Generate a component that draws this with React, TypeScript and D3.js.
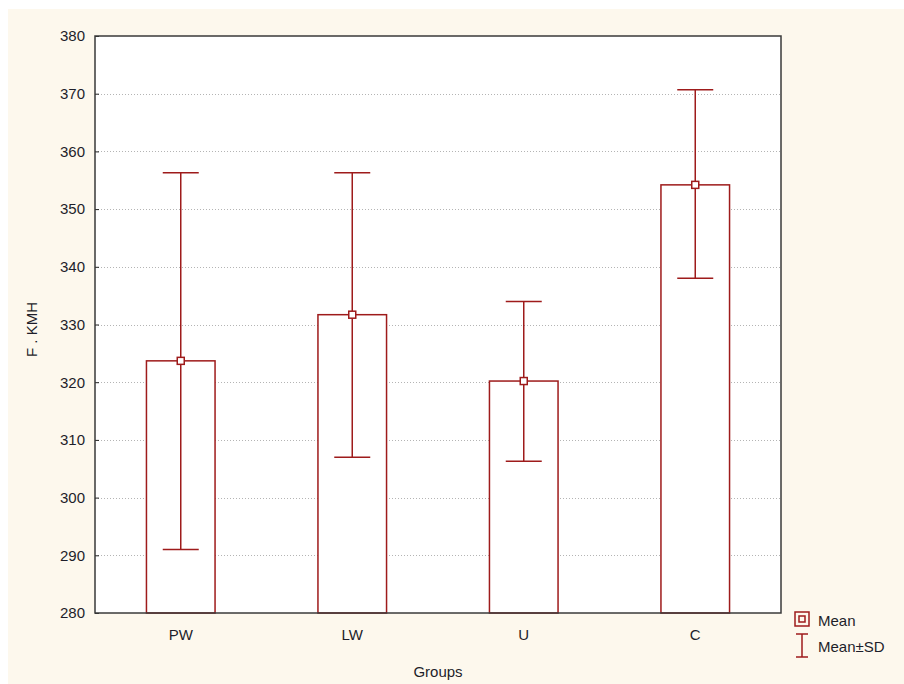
import React, { useEffect, useRef } from "react";
import * as d3 from "d3";

const groups = ["PW", "LW", "U", "C"];
const means = [323.7, 331.7, 320.2, 354.2];
const sdLow = [291.0, 307.0, 306.3, 338.0];
const sdHigh = [356.3, 356.3, 334.0, 370.7];
const yTicks = [280, 290, 300, 310, 320, 330, 340, 350, 360, 370, 380];

const RED = "#9e1b1b";
const FONT = "Arial, 'Liberation Sans', sans-serif";

const App = () => {
  const ref = useRef<SVGSVGElement>(null);

  useEffect(() => {
    const svg = d3.select(ref.current);
    svg.selectAll("*").remove();

    const left = 95;
    const right = 781;
    const top = 36;
    const bottom = 613;

    const x = d3
      .scaleBand()
      .domain(groups)
      .range([left, right])
      .paddingInner(0.6)
      .paddingOuter(0.3);
    const y = d3.scaleLinear().domain([280, 380]).range([bottom, top]);

    // background
    svg
      .append("rect")
      .attr("x", 8)
      .attr("y", 9)
      .attr("width", 896)
      .attr("height", 675)
      .attr("fill", "#fdf8ed");

    svg
      .append("rect")
      .attr("x", left)
      .attr("y", top)
      .attr("width", right - left)
      .attr("height", bottom - top)
      .attr("fill", "#ffffff");

    // grid
    svg
      .append("g")
      .selectAll("line")
      .data(yTicks.slice(1, -1))
      .enter()
      .append("line")
      .attr("x1", left)
      .attr("x2", right)
      .attr("y1", (d) => Math.round(y(d)) + 0.5)
      .attr("y2", (d) => Math.round(y(d)) + 0.5)
      .attr("stroke", "#b4b4b4")
      .attr("stroke-dasharray", "1,2");

    // y axis
    const yAxis = svg
      .append("g")
      .attr("transform", `translate(${left},0)`)
      .call(d3.axisRight(y).tickValues(yTicks).tickSize(4).tickFormat(d3.format("d")));
    yAxis.select(".domain").remove();
    yAxis.selectAll("line").attr("stroke", "#222");
    yAxis
      .selectAll("text")
      .attr("x", -10)
      .attr("text-anchor", "end")
      .attr("fill", "#1e1e2a")
      .attr("font-size", 15)
      .attr("font-family", FONT);

    // x axis labels
    svg
      .append("g")
      .selectAll("text")
      .data(groups)
      .enter()
      .append("text")
      .attr("x", (d) => x(d)! + x.bandwidth() / 2)
      .attr("y", bottom + 27)
      .attr("text-anchor", "middle")
      .attr("font-size", 15)
      .attr("font-family", FONT)
      .attr("fill", "#1e1e2a")
      .text((d) => d);

    // bars
    svg
      .append("g")
      .selectAll("rect")
      .data(groups)
      .enter()
      .append("rect")
      .attr("x", (d) => x(d)!)
      .attr("y", (d, i) => y(means[i]))
      .attr("width", x.bandwidth())
      .attr("height", (d, i) => bottom - y(means[i]))
      .attr("fill", "#ffffff")
      .attr("stroke", RED)
      .attr("stroke-width", 1.5);

    // whiskers
    const cap = 18;
    const wg = svg.append("g").attr("stroke", RED).attr("stroke-width", 1.5);
    groups.forEach((g, i) => {
      const cx = x(g)! + x.bandwidth() / 2;
      wg.append("line").attr("x1", cx).attr("x2", cx).attr("y1", y(sdLow[i])).attr("y2", y(sdHigh[i]));
      wg.append("line").attr("x1", cx - cap).attr("x2", cx + cap).attr("y1", y(sdLow[i])).attr("y2", y(sdLow[i]));
      wg.append("line").attr("x1", cx - cap).attr("x2", cx + cap).attr("y1", y(sdHigh[i])).attr("y2", y(sdHigh[i]));
      wg.append("rect")
        .attr("x", cx - 3.5)
        .attr("y", y(means[i]) - 3.5)
        .attr("width", 7)
        .attr("height", 7)
        .attr("fill", "#ffffff");
    });

    // frame
    svg
      .append("rect")
      .attr("x", left)
      .attr("y", top)
      .attr("width", right - left)
      .attr("height", bottom - top)
      .attr("fill", "none")
      .attr("stroke", "#3a3a3a")
      .attr("stroke-width", 1.5);

    // axis titles
    svg
      .append("text")
      .attr("transform", `translate(37,${(top + bottom) / 2 + 5}) rotate(-90)`)
      .attr("text-anchor", "middle")
      .attr("font-size", 15)
      .attr("font-family", FONT)
      .attr("fill", "#1e1e2a")
      .text("F . KMH");

    svg
      .append("text")
      .attr("x", (left + right) / 2)
      .attr("y", 677)
      .attr("text-anchor", "middle")
      .attr("font-size", 15)
      .attr("font-family", FONT)
      .attr("fill", "#1e1e2a")
      .text("Groups");

    // legend
    const lg = svg.append("g");
    lg.append("rect")
      .attr("x", 795)
      .attr("y", 612)
      .attr("width", 14)
      .attr("height", 14)
      .attr("fill", "none")
      .attr("stroke", RED)
      .attr("stroke-width", 1.5);
    lg.append("rect")
      .attr("x", 799)
      .attr("y", 616)
      .attr("width", 6)
      .attr("height", 6)
      .attr("fill", "none")
      .attr("stroke", RED)
      .attr("stroke-width", 1.5);
    lg.append("line").attr("x1", 796).attr("x2", 808).attr("y1", 634).attr("y2", 634).attr("stroke", RED).attr("stroke-width", 1.5);
    lg.append("line").attr("x1", 796).attr("x2", 808).attr("y1", 657).attr("y2", 657).attr("stroke", RED).attr("stroke-width", 1.5);
    lg.append("line").attr("x1", 802).attr("x2", 802).attr("y1", 634).attr("y2", 657).attr("stroke", RED).attr("stroke-width", 1.5);
    lg.append("text")
      .attr("x", 818)
      .attr("y", 626)
      .attr("font-size", 15)
      .attr("font-family", FONT)
      .attr("fill", "#1e1e2a")
      .text("Mean");
    lg.append("text")
      .attr("x", 818)
      .attr("y", 652)
      .attr("font-size", 15)
      .attr("font-family", FONT)
      .attr("fill", "#1e1e2a")
      .text("Mean±SD");
  }, []);

  return (
    <svg
      ref={ref}
      width={904}
      height={684}
      style={{ position: "absolute", left: 0, top: 0, background: "#ffffff" }}
    />
  );
};

export default App;
